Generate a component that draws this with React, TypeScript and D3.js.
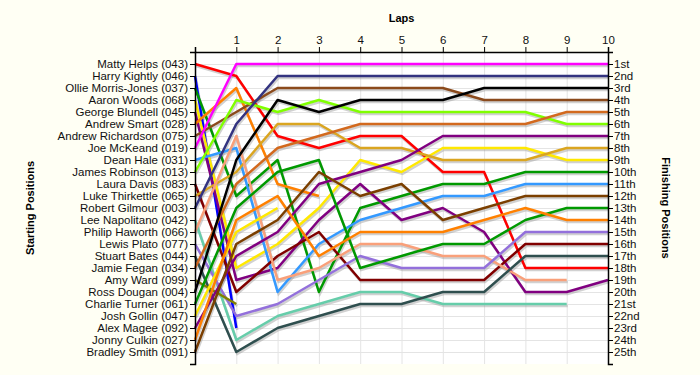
import { useEffect, useRef } from 'react';
import * as d3 from 'd3';

// starting grid, in starting order
const drivers = [
  'Matty Helps (043)', 'Harry Kightly (046)', 'Ollie Morris-Jones (037)', 'Aaron Woods (068)',
  'George Blundell (045)', 'Andrew Smart (028)', 'Andrew Richardson (075)', 'Joe McKeand (019)',
  'Dean Hale (031)', 'James Robinson (013)', 'Laura Davis (083)', 'Luke Thirkettle (065)',
  'Robert Gilmour (003)', 'Lee Napolitano (042)', 'Philip Haworth (066)', 'Lewis Plato (077)',
  'Stuart Bates (044)', 'Jamie Fegan (034)', 'Amy Ward (099)', 'Ross Dougan (004)',
  'Charlie Turner (061)', 'Josh Gollin (047)', 'Alex Magee (092)', 'Jonny Culkin (027)',
  'Bradley Smith (091)',
];

const lapTicks = [1, 2, 3, 4, 5, 6, 7, 8, 9, 10];

const finishLabels = [
  '1st', '2nd', '3rd', '4th', '5th', '6th', '7th', '8th', '9th', '10th',
  '11th', '12th', '13th', '14th', '15th', '16th', '17th', '18th', '19th', '20th',
  '21st', '22nd', '23rd', '24th', '25th',
];

// position at lap 0..n for each driver (same order as drivers)
const positions = [
  [1, 2, 7, 8, 7, 7, 10, 10, 18, 18, 18],
  [2, 23],
  [3, 12, 9, 20, 13, 12, 11, 11, 10, 10, 10],
  [4, 18, 16, 13, 9, 10, 8, 8, 8, 9, 9],
  [5, 19, 18, 14, 11, 14, 13, 15, 20, 20, 19],
  [6, 3, 11, 12],
  [7, 5, 3, 3, 3, 3, 3, 4, 4, 4, 4],
  [8, 1, 1, 1, 1, 1, 1, 1, 1, 1, 1],
  [9, 8, 20, 16, 14, 13, 12, 12, 11, 11, 11],
  [10, 4, 5, 4, 5, 5, 5, 5, 5, 6, 6],
  [11, 20, 17, 15, 19, 19, 19, 19, 16, 16, 16],
  [12, 10, 6, 6, 8, 8, 9, 9, 9, 8, 8],
  [13, 6, 2, 2, 2, 2, 2, 2, 2, 2, 2],
  [14, 24, 22, 21, 20, 20, 21, 21, 21, 21],
  [15, 7, 19, 18, 16, 16, 17, 17, 19, 19],
  [16, 22, 21, 19, 17, 18, 18, 18, 15, 15, 15],
  [17, 25, 23, 22, 21, 21, 20, 20, 17, 17, 17],
  [18, 11, 8, 7, 6, 6, 6, 6, 6, 5, 5],
  [19, 21],
  [20, 9, 4, 5, 4, 4, 4, 3, 3, 3, 3],
  [21, 13, 10, 9, 18, 17, 16, 16, 14, 13, 13],
  [22, 15, 13],
  [23, 17, 15, 11, 10, 9, 7, 7, 7, 7, 7],
  [24, 14, 12, 17, 15, 15, 15, 14, 13, 14, 14],
  [25, 16, 14, 10, 12, 11, 14, 13, 12, 12, 12],
];

const palette = [
  '#ff0000', '#0000ff', '#009900', '#ffe800', '#800080', '#ff8000', '#8b4a1c', '#ff00ff',
  '#3399ff', '#80ff00', '#800000', '#daa520', '#333380', '#66cdaa', '#f9a07a', '#9370db',
  '#2f4f4f', '#d2691e', '#808000', '#000000', '#009900', '#ffe800', '#800080', '#ff8000',
  '#7b3f00',
];

export default function App() {
  const svgRef = useRef<SVGSVGElement>(null);

  useEffect(() => {
    if (!svgRef.current) return;
    const svg = d3.select(svgRef.current);
    svg.selectAll('*').remove();

    const left = 195, right = 608, top = 52, bottom = 364;
    const x = d3.scaleLinear().domain([0, 10]).range([left, right]);
    const y = d3.scaleLinear().domain([0, 26]).range([top, bottom]);
    const font = 'Arial, "Liberation Sans", sans-serif';

    svg.append('rect').attr('width', 700).attr('height', 375).attr('fill', '#fffff4');
    svg.append('rect')
      .attr('x', left).attr('y', top)
      .attr('width', right - left).attr('height', bottom - top)
      .attr('fill', '#ffffff');

    // grid
    const grid = svg.append('g').attr('stroke', '#e4e4e4').attr('stroke-width', 1);
    grid.selectAll('line.h')
      .data(d3.range(1, 26))
      .join('line')
      .attr('x1', left).attr('x2', right)
      .attr('y1', d => y(d) + 0.5).attr('y2', d => y(d) + 0.5);
    grid.selectAll('line.v')
      .data(lapTicks.slice(0, -1))
      .join('line')
      .attr('x1', d => x(d) + 0.5).attr('x2', d => x(d) + 0.5)
      .attr('y1', top).attr('y2', bottom);

    const line = d3.line<number>()
      .x((_, i) => x(i))
      .y(d => y(d));

    // shadows
    svg.append('g')
      .attr('transform', 'translate(1,2)')
      .selectAll('path')
      .data(positions)
      .join('path')
      .attr('d', d => line(d))
      .attr('fill', 'none')
      .attr('stroke', '#9a9a9a')
      .attr('stroke-opacity', 0.45)
      .attr('stroke-width', 2.5);

    svg.append('g')
      .selectAll('path')
      .data(positions)
      .join('path')
      .attr('d', d => line(d))
      .attr('fill', 'none')
      .attr('stroke', (_, i) => palette[i])
      .attr('stroke-width', 2.5)
      .attr('stroke-linejoin', 'round');

    const styleAxis = (g: any) => {
      g.selectAll('text').attr('font-family', font).attr('font-size', 11.5).attr('fill', '#111');
      g.selectAll('line').attr('stroke', '#000');
      g.select('.domain').attr('stroke', '#000').attr('stroke-width', 1.5);
    };

    // left axis
    svg.append('g')
      .attr('transform', `translate(${left},0)`)
      .call(d3.axisLeft(y).tickValues(d3.range(1, 26)).tickFormat(d => drivers[+d - 1]).tickSize(5).tickSizeOuter(5).tickPadding(2))
      .call(styleAxis);

    // right axis
    svg.append('g')
      .attr('transform', `translate(${right},0)`)
      .call(d3.axisRight(y).tickValues(d3.range(1, 26)).tickFormat(d => finishLabels[+d - 1]).tickSize(5).tickSizeOuter(5).tickPadding(1))
      .call(styleAxis);

    // top axis
    svg.append('g')
      .attr('transform', `translate(0,${top})`)
      .call(d3.axisTop(x).tickValues(lapTicks).tickFormat(d3.format('d')).tickSize(5).tickSizeOuter(5).tickPadding(3))
      .call(styleAxis);

    svg.append('text')
      .attr('x', (left + right) / 2).attr('y', 22)
      .attr('text-anchor', 'middle')
      .attr('font-family', font).attr('font-size', 11).attr('font-weight', 'bold')
      .text('Laps');

    svg.append('text')
      .attr('transform', `translate(34,${(top + bottom) / 2}) rotate(-90)`)
      .attr('text-anchor', 'middle')
      .attr('font-family', font).attr('font-size', 11).attr('font-weight', 'bold')
      .text('Starting Positions');

    svg.append('text')
      .attr('transform', `translate(662,${(top + bottom) / 2}) rotate(90)`)
      .attr('text-anchor', 'middle')
      .attr('font-family', font).attr('font-size', 11).attr('font-weight', 'bold')
      .text('Finishing Positions');
  }, []);

  return (
    <svg
      ref={svgRef}
      width={700}
      height={375}
      style={{ position: 'absolute', left: 0, top: 0 }}
    />
  );
}
